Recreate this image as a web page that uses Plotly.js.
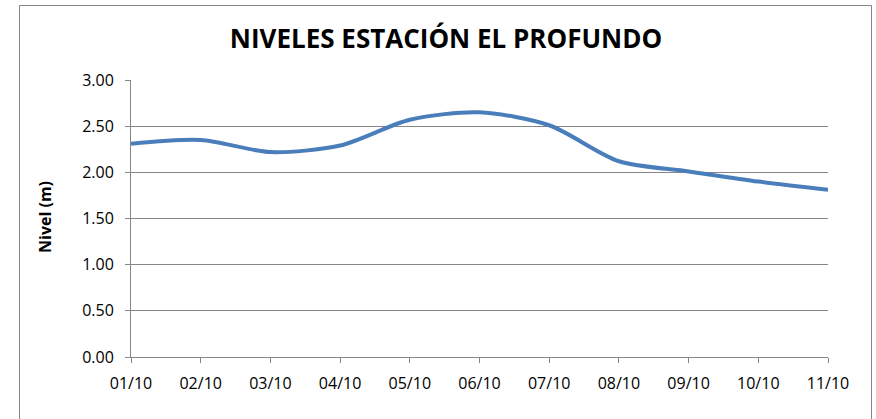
<!DOCTYPE html>
<html>
<head>
<meta charset="utf-8">
<script src="https://cdn.plot.ly/plotly-3.0.1.min.js"></script>
<style>html,body{margin:0;padding:0;background:#fff;}#chart{width:876px;height:419px;}</style>
</head>
<body>
<div id="chart"></div>
<script>
const fechas = ["01/10","02/10","03/10","04/10","05/10","06/10","07/10","08/10","09/10","10/10","11/10"];
const niveles = [2.31, 2.35, 2.22, 2.29, 2.57, 2.65, 2.51, 2.12, 2.01, 1.90, 1.81];
const yTicks = [0, 0.5, 1, 1.5, 2, 2.5, 3];
const yTickText = ["0.00","0.50","1.00","1.50","2.00","2.50","3.00"];

const idx = fechas.map((_, i) => i);
const W = 876, H = 419, L = 131, R = 48, T = 80, B = 62;
const pw = W - L - R, ph = H - T - B;
const px = v => (v - L) / pw;
const py = v => (H - B - v) / ph;

const font = "Open Sans, sans-serif";
const data = [{
  x: idx, y: niveles, type: "scatter", mode: "lines",
  line: {color: "#4a7ebb", width: 4, shape: "spline", smoothing: 0.8},
  hoverinfo: "skip"
}];
const layout = {
  width: W, height: H,
  margin: {l: L, r: R, t: T, b: B},
  paper_bgcolor: "#fff", plot_bgcolor: "#fff",
  showlegend: false,
  font: {family: font, color: "#000", size: 16},
  title: {text: "<b>NIVELES ESTACIÓN EL PROFUNDO</b>", font: {family: font, size: 26, color: "#000"},
    x: 446 / W, xref: "container", xanchor: "center", y: 1 - 39 / H, yref: "container", yanchor: "middle"},
  xaxis: {
    range: [0, fechas.length - 1], tickvals: idx, ticktext: fechas,
    showgrid: false, zeroline: false, showline: true, linecolor: "#868686", linewidth: 1,
    ticks: "outside", ticklen: 5, tickcolor: "#868686", tickfont: {size: 16, family: font},
    ticklabelstandoff: 7,
    fixedrange: true
  },
  yaxis: {
    range: [0, 3], tickvals: yTicks, ticktext: yTickText,
    showgrid: true, gridcolor: "#868686", gridwidth: 1, zeroline: false,
    showline: true, linecolor: "#868686", linewidth: 1,
    ticks: "outside", ticklen: 5, tickcolor: "#868686", tickfont: {size: 16, family: font},
    ticklabelstandoff: 8,
    fixedrange: true
  },
  annotations: [{
    text: "<b>Nivel (m)</b>", textangle: -90, xref: "paper", yref: "paper",
    x: px(45), y: py(217), xanchor: "center", yanchor: "middle", showarrow: false,
    font: {family: font, size: 16, color: "#000"}
  }],
  shapes: [{
    type: "rect", xref: "paper", yref: "paper",
    x0: px(19.5), x1: px(871.5), y0: py(430), y1: py(5.5),
    line: {color: "#868686", width: 1}, fillcolor: "rgba(0,0,0,0)", layer: "below"
  }]
};
Plotly.newPlot("chart", data, layout, {displayModeBar: false, staticPlot: true});
</script>
</body>
</html>
